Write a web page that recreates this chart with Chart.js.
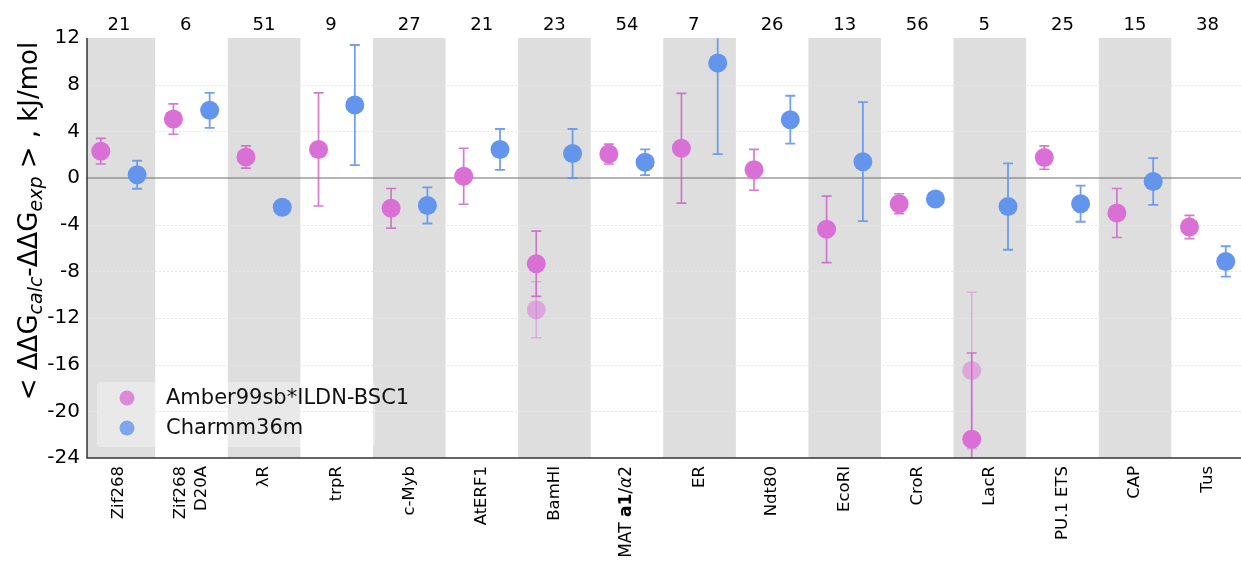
<!DOCTYPE html>
<html>
<head>
<meta charset="utf-8">
<script src="https://cdn.jsdelivr.net/npm/chart.js@4.4.1/dist/chart.umd.min.js"></script>
<style>
  body { margin: 0; background: #fff; }
</style>
</head>
<body>
<canvas id="myChart" width="1241" height="571"></canvas>
<script>
// categories (x axis), counts shown above each column
var categories = ["Zif268", ["Zif268", "D20A"], "λR", "trpR", "c-Myb", "AtERF1", "BamHI", "MAT a1/α2",
                  "ER", "Ndt80", "EcoRI", "CroR", "LacR", "PU.1 ETS", "CAP", "Tus"];
var counts = [21, 6, 51, 9, 27, 21, 23, 54, 7, 26, 13, 56, 5, 25, 15, 38];

// Amber99sb*ILDN-BSC1
var amber    = [2.3, 5.05, 1.8, 2.45, -2.6, 0.15, -7.35, 2.05, 2.55, 0.7, -4.4, -2.2, -22.4, 1.75, -3.0, -4.2];
var amberErr = [1.1, 1.3, 0.95, 4.85, 1.7, 2.4, 2.8, 0.85, 4.7, 1.75, 2.85, 0.85, 7.4, 1.0, 2.1, 1.0];
// second (faded) Amber estimate, only for two systems
var amberAlt    = [null, null, null, null, null, null, -11.3, null, null, null, null, null, -16.5, null, null, null];
var amberAltErr = [null, null, null, null, null, null, 2.4, null, null, null, null, null, 6.7, null, null, null];
// Charmm36m
var charmm    = [0.28, 5.8, -2.5, 6.25, -2.35, 2.45, 2.1, 1.35, 9.85, 5.0, 1.4, -1.8, -2.45, -2.2, -0.3, -7.15];
var charmmErr = [1.2, 1.5, 0, 5.15, 1.55, 1.75, 2.1, 1.1, 7.8, 2.05, 5.1, 0, 3.7, 1.55, 2.0, 1.3];

var yMin = -24, yMax = 12, yStep = 4;

var pink = "rgb(218,112,214)", blue = "rgb(100,149,237)";

function points(vals, errs, shift) {
    var out = [];
    for (var i = 0; i < vals.length; i++) {
        if (vals[i] === null) continue;
        out.push({ x: i + shift, y: vals[i], err: errs[i] });
    }
    return out;
}

function drawErrors(ctx, chart, idx, color, width) {
    var xs = chart.scales.x, ys = chart.scales.y;
    var data = chart.data.datasets[idx].data;
    ctx.strokeStyle = color;
    ctx.lineWidth = width;
    ctx.setLineDash([]);
    data.forEach(function (p) {
        if (!p.err) return;
        var x = xs.getPixelForValue(p.x);
        var y1 = ys.getPixelForValue(p.y + p.err);
        var y2 = ys.getPixelForValue(p.y - p.err);
        ctx.beginPath();
        ctx.moveTo(x, y1); ctx.lineTo(x, y2);
        ctx.moveTo(x - 5, y1); ctx.lineTo(x + 5, y1);
        ctx.moveTo(x - 5, y2); ctx.lineTo(x + 5, y2);
        ctx.stroke();
    });
}

var decor = {
    id: "decor",
    beforeDatasetsDraw: function (chart) {
        var ctx = chart.ctx, a = chart.chartArea;
        var xs = chart.scales.x, ys = chart.scales.y;
        ctx.save();
        ctx.beginPath();
        ctx.rect(a.left, a.top, a.right - a.left, a.bottom - a.top);
        ctx.clip();

        // shaded columns
        ctx.fillStyle = "#dedede";
        for (var i = 0; i < categories.length; i += 2) {
            var l = xs.getPixelForValue(i - 0.5), r = xs.getPixelForValue(i + 0.5);
            ctx.fillRect(l, a.top, r - l, a.bottom - a.top);
        }

        // legend box background
        ctx.fillStyle = "rgba(255,255,255,0.35)";
        ctx.beginPath();
        ctx.roundRect(97, 382, 278, 65, 4);
        ctx.fill();

        // dotted grid
        ctx.strokeStyle = "#e6e6e6";
        ctx.lineWidth = 1;
        ctx.setLineDash([2, 2]);
        for (var v = yMin + yStep; v < yMax; v += yStep) {
            if (v === 0) continue;
            var y = Math.round(ys.getPixelForValue(v)) + 0.5;
            ctx.beginPath(); ctx.moveTo(a.left, y); ctx.lineTo(a.right, y); ctx.stroke();
        }
        ctx.setLineDash([]);

        // zero line
        var y0 = ys.getPixelForValue(0);
        ctx.strokeStyle = "rgba(120,120,120,0.55)";
        ctx.lineWidth = 2;
        ctx.beginPath(); ctx.moveTo(a.left, y0); ctx.lineTo(a.right, y0); ctx.stroke();

        // error bars
        drawErrors(ctx, chart, 2, "rgba(218,112,214,0.45)", 1.5);
        drawErrors(ctx, chart, 0, "rgba(205,100,200,0.85)", 1.7);
        drawErrors(ctx, chart, 1, "rgba(100,149,237,0.9)", 1.8);
        ctx.restore();
    },
    afterDraw: function (chart) {
        var ctx = chart.ctx, a = chart.chartArea;
        var xs = chart.scales.x;
        ctx.save();

        // axis lines
        ctx.strokeStyle = "#333";
        ctx.lineWidth = 1.5;
        ctx.beginPath();
        ctx.moveTo(a.left, a.top); ctx.lineTo(a.left, a.bottom); ctx.lineTo(a.right, a.bottom);
        ctx.stroke();

        // counts on top
        ctx.fillStyle = "#000";
        ctx.font = "18px 'DejaVu Sans'";
        ctx.textBaseline = "middle";
        ctx.textAlign = "left";
        counts.forEach(function (c, i) {
            ctx.fillText(String(c), xs.getPixelForValue(i) - 11.5, 25);
        });

        // x labels, rotated
        var fs = 16.5;
        categories.forEach(function (lab, i) {
            var px = xs.getPixelForValue(i);
            ctx.save();
            ctx.translate(px, a.bottom + 8);
            ctx.rotate(-Math.PI / 2);
            ctx.textBaseline = "middle";
            if (i === 7) {
                var parts = [["MAT ", ""], ["a1", "bold "], ["/", ""], ["α", "italic "], ["2", ""]];
                var total = 0;
                parts.forEach(function (p) {
                    ctx.font = p[1] + "17px 'DejaVu Sans'";
                    total += ctx.measureText(p[0]).width;
                });
                var x = -total;
                ctx.textAlign = "left";
                parts.forEach(function (p) {
                    ctx.font = p[1] + "17px 'DejaVu Sans'";
                    ctx.fillText(p[0], x, 0);
                    x += ctx.measureText(p[0]).width;
                });
            } else {
                ctx.font = fs + "px 'DejaVu Sans'";
                ctx.textAlign = "right";
                var lines = Array.isArray(lab) ? lab : [lab];
                var lh = 21;
                lines.forEach(function (t, k) {
                    ctx.fillText(t, 0, (k - (lines.length - 1) / 2) * lh);
                });
            }
            ctx.restore();
        });

        // y axis title with subscripts
        var segs = [["< ΔΔG", 0], ["calc", 1], ["-ΔΔG", 0], ["exp", 1], [" > , kJ/mol", 0]];
        var big = "26px 'DejaVu Sans'", small = "italic 19px 'DejaVu Sans'";
        var tw = 0;
        segs.forEach(function (s) { ctx.font = s[1] ? small : big; tw += ctx.measureText(s[0]).width; });
        ctx.translate(37, 221 + tw / 2);
        ctx.rotate(-Math.PI / 2);
        ctx.textAlign = "left";
        ctx.textBaseline = "alphabetic";
        var cx = 0;
        segs.forEach(function (s) {
            ctx.font = s[1] ? small : big;
            ctx.fillText(s[0], cx, s[1] ? 5 : 0);
            cx += ctx.measureText(s[0]).width;
        });
        ctx.restore();

        // legend items
        ctx.save();
        var items = [["Amber99sb*ILDN-BSC1", "rgba(218,112,214,0.8)", 398], ["Charmm36m", "rgba(100,149,237,0.8)", 428]];
        ctx.font = "21px 'DejaVu Sans'";
        ctx.textBaseline = "middle";
        ctx.textAlign = "left";
        items.forEach(function (it) {
            ctx.fillStyle = it[1];
            ctx.beginPath(); ctx.arc(127, it[2], 7.5, 0, Math.PI * 2); ctx.fill();
            ctx.fillStyle = "#111";
            ctx.fillText(it[0], 166, it[2] + 1);
        });
        ctx.restore();
    }
};

new Chart("myChart", {
    type: "scatter",
    data: {
        datasets: [
            { label: "Amber99sb*ILDN-BSC1", data: points(amber, amberErr, -0.25),
              backgroundColor: pink, pointRadius: 9.5, pointBorderWidth: 0, order: 2 },
            { label: "Charmm36m", data: points(charmm, charmmErr, 0.25),
              backgroundColor: blue, pointRadius: 9.5, pointBorderWidth: 0, order: 3 },
            { label: "Amber alt", data: points(amberAlt, amberAltErr, -0.25),
              backgroundColor: "rgba(218,112,214,0.5)", pointRadius: 9.5, pointBorderWidth: 0, order: 1 }
        ]
    },
    options: {
        responsive: false,
        animation: false,
        layout: { autoPadding: false, padding: { top: 38, left: 0, right: 0, bottom: 0 } },
        plugins: { legend: { display: false }, tooltip: { enabled: false } },
        scales: {
            x: {
                type: "linear", min: -0.44, max: 15.46,
                ticks: { display: false },
                grid: { display: false, drawTicks: false },
                border: { display: false },
                afterFit: function (s) { s.height = 113; }
            },
            y: {
                min: yMin, max: yMax,
                ticks: { stepSize: yStep, color: "#000", padding: 7,
                         font: { family: "DejaVu Sans", size: 20 } },
                grid: { display: false, drawTicks: false },
                border: { display: false },
                afterFit: function (s) { s.width = 87; }
            }
        }
    },
    plugins: [decor]
});
</script>
</body>
</html>
